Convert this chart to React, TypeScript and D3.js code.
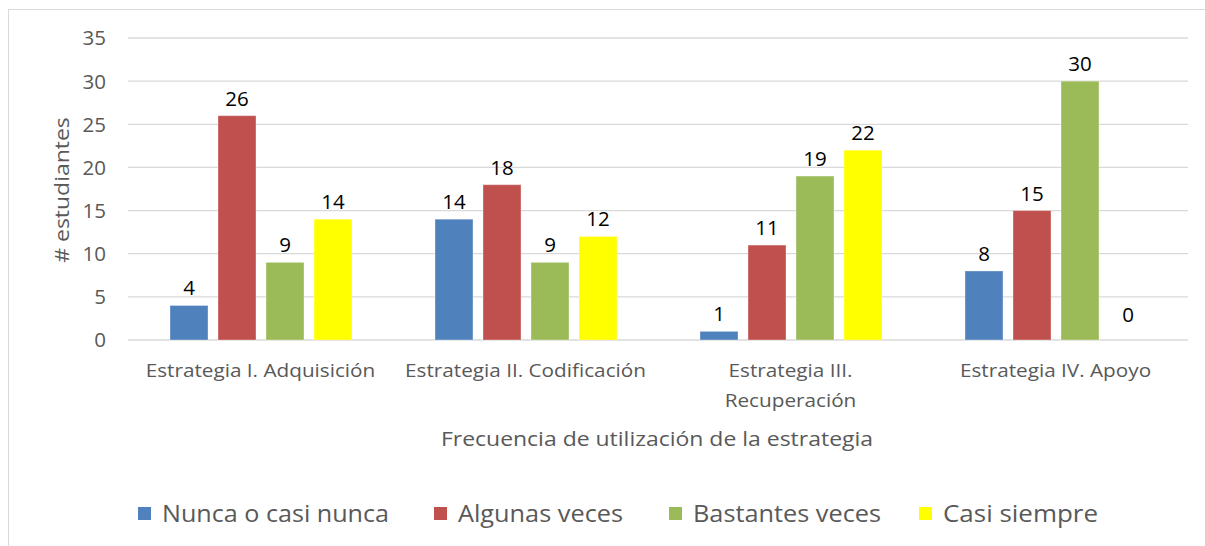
import React from "react";
import * as d3 from "d3";

const categories: string[][] = [
  ["Estrategia I. Adquisición"],
  ["Estrategia II. Codificación"],
  ["Estrategia III.", "Recuperación"],
  ["Estrategia IV. Apoyo"],
];
const seriesNames = ["Nunca o casi nunca", "Algunas veces", "Bastantes veces", "Casi siempre"];
const seriesColors = ["#4F81BD", "#C0504D", "#9BBB59", "#FFFF00"];
const nuncaValues = [4, 14, 1, 8];
const algunasValues = [26, 18, 11, 15];
const bastantesValues = [9, 9, 19, 30];
const casiSiempreValues = [14, 12, 22, 0];
const yTicks = [0, 5, 10, 15, 20, 25, 30, 35];
const xTitle = "Frecuencia de utilización de la estrategia";
const yTitle = "# estudiantes";

const seriesValues = [nuncaValues, algunasValues, bastantesValues, casiSiempreValues];
const FONT = "'Open Sans', 'Noto Sans', sans-serif";
const WIDEN = 1.12;

export default function App() {
  const W = 1205;
  const H = 546;
  const left = 128;
  const right = 1188;
  const top = 38;
  const bottom = 340;

  const x0 = d3.scaleBand<number>().domain(d3.range(categories.length)).range([left, right]).padding(0);
  const x1 = d3
    .scaleBand<number>()
    .domain(d3.range(seriesNames.length))
    .range([42, 42 + 182])
    .paddingInner(10 / 48)
    .paddingOuter(0);
  const y = d3.scaleLinear().domain([0, 35]).range([bottom, top]);

  const legendX = [138, 434, 669, 919];
  const legendW = [227, 165, 188, 155];

  const WideText = (props: any) => {
    const ref = React.useRef<SVGTextElement>(null);
    React.useLayoutEffect(() => {
      const el = ref.current;
      if (!el) return;
      el.removeAttribute("textLength");
      const w = el.getComputedTextLength();
      el.setAttribute("textLength", String(w * WIDEN));
      el.setAttribute("lengthAdjust", "spacingAndGlyphs");
    }, []);
    return <text ref={ref} {...props} />;
  };

  return (
    <svg
      width={W}
      height={H}
      style={{ position: "absolute", left: 0, top: 0, background: "#fff" }}
      fontFamily={FONT}
    >
      <rect x={8.5} y={9.5} width={1300} height={700} fill="#fff" stroke="#d9d9d9" strokeWidth={1} />
      {yTicks.map((t) => (
        <g key={t}>
          <line x1={left} x2={right} y1={y(t)} y2={y(t)} stroke="#d9d9d9" strokeWidth={1.3} />
          <text x={106} y={y(t)} dy="0.36em" textAnchor="end" fontSize={20.5} fill="#595959">
            {t}
          </text>
        </g>
      ))}
      {categories.map((cat, ci) =>
        seriesValues.map((vals, si) => {
          const v = vals[ci];
          const bx = (x0(ci) as number) + (x1(si) as number);
          const bw = x1.bandwidth();
          return (
            <g key={ci + "-" + si}>
              {v > 0 && (
                <rect
                  x={bx}
                  y={y(v)}
                  width={bw}
                  height={y(0) - y(v)}
                  fill={seriesColors[si]}
                  stroke="#ffffff"
                  strokeOpacity={0.35}
                  strokeWidth={1}
                />
              )}
              <text
                x={bx + bw / 2}
                y={v === 0 ? y(0) - 18 : y(v) - 10}
                textAnchor="middle"
                fontSize={20.5}
                fill="#000"
              >
                {v}
              </text>
            </g>
          );
        })
      )}
      {categories.map((lines, ci) =>
        lines.map((l, li) => (
          <WideText
            key={"c" + ci + "-" + li}
            x={(x0(ci) as number) + x0.bandwidth() / 2}
            y={377 + li * 30}
            textAnchor="middle"
            fontSize={18.5}
            fill="#595959"
          >
            {l}
          </WideText>
        ))
      )}
      <WideText x={657} y={446} textAnchor="middle" fontSize={20.5} fill="#595959">
        {xTitle}
      </WideText>
      <WideText
        transform={`translate(69, 190) rotate(-90)`}
        textAnchor="middle"
        fontSize={20.5}
        fill="#595959"
      >
        {yTitle}
      </WideText>
      {seriesNames.map((name, i) => (
        <g key={"l" + i}>
          <rect x={legendX[i]} y={507} width={13} height={13} fill={seriesColors[i]} />
          <text
            x={legendX[i] + 24}
            y={522}
            fontSize={24}
            fill="#595959"
            textLength={legendW[i]}
            lengthAdjust="spacingAndGlyphs"
          >
            {name}
          </text>
        </g>
      ))}
    </svg>
  );
}
